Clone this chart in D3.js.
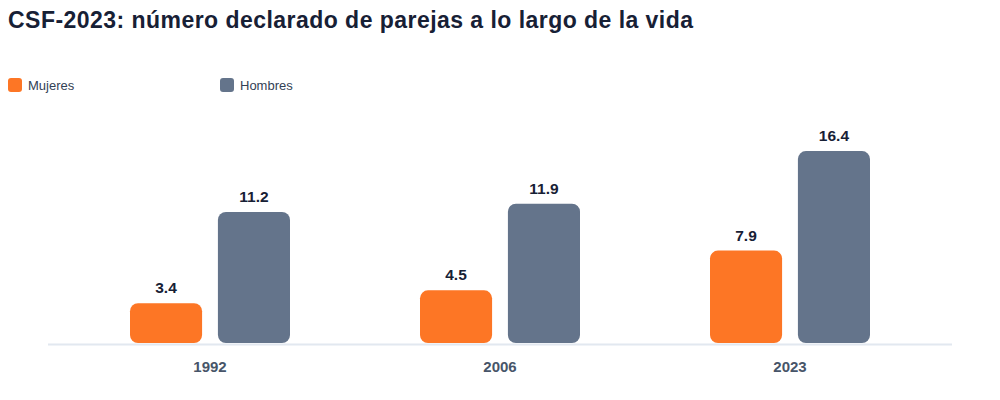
<!DOCTYPE html>
<html>
<head>
<meta charset="utf-8">
<script src="https://cdn.jsdelivr.net/npm/d3@7"></script>
<style>
  html, body { margin: 0; padding: 0; background: #ffffff; }
  svg { display: block; font-family: "Liberation Sans", Arial, sans-serif; }
</style>
</head>
<body>
<svg id="chart" width="1000" height="400"></svg>
<script>
const title = "CSF-2023: número declarado de parejas a lo largo de la vida";
const categories = ["1992", "2006", "2023"];
const seriesNames = ["Mujeres", "Hombres"];
const mujeres = [3.4, 4.5, 7.9];
const hombres = [11.2, 11.9, 16.4];
const colors = ["#fd7625", "#64748b"];

const svg = d3.select("#chart");
const baseY = 343;

svg.append("text")
  .attr("x", 8).attr("y", 28)
  .attr("font-size", 23).attr("font-weight", "bold")
  .attr("fill", "#172035")
  .attr("textLength", 685).attr("lengthAdjust", "spacing")
  .text(title);

// legend
const legendX = [8, 220];
seriesNames.forEach((s, i) => {
  const g = svg.append("g").attr("transform", `translate(${legendX[i]},78)`);
  g.append("rect").attr("width", 14).attr("height", 14).attr("rx", 3).attr("fill", colors[i]);
  g.append("text").attr("x", 20).attr("y", 12).attr("font-size", 13)
    .attr("fill", "#334155").text(s);
});

const x = d3.scaleBand().domain(categories).range([65, 935]).padding(0);
const sub = d3.scaleBand().domain(seriesNames).range([0, 160]).paddingInner(0.18);
const y = d3.scaleLinear().domain([0, 20]).range([baseY, baseY - 234]);

const data = categories.map((c, i) => ({cat: c, values: [mujeres[i], hombres[i]]}));

// axis line
svg.append("line")
  .attr("x1", 48).attr("x2", 952).attr("y1", baseY + 1.5).attr("y2", baseY + 1.5)
  .attr("stroke", "#e2e8f0").attr("stroke-width", 2);

const groups = svg.selectAll("g.grp").data(data).join("g")
  .attr("class", "grp")
  .attr("transform", d => `translate(${x(d.cat) + x.bandwidth() / 2 - 80},0)`);

groups.selectAll("rect").data(d => d.values.map((v, i) => ({v, s: seriesNames[i], i})))
  .join("rect")
  .attr("x", d => sub(d.s))
  .attr("width", sub.bandwidth())
  .attr("y", d => y(d.v))
  .attr("height", d => y(0) - y(d.v))
  .attr("rx", 8)
  .attr("fill", d => colors[d.i]);

groups.selectAll("text.val").data(d => d.values.map((v, i) => ({v, s: seriesNames[i], i})))
  .join("text")
  .attr("class", "val")
  .attr("x", d => sub(d.s) + sub.bandwidth() / 2)
  .attr("y", d => y(d.v) - 10)
  .attr("text-anchor", "middle")
  .attr("font-size", 15.5).attr("font-weight", "bold")
  .attr("fill", "#172035")
  .text(d => d.v.toFixed(1));

// x axis labels
const xAxis = d3.axisBottom(x).tickSize(0).tickPadding(0);
const ax = svg.append("g").attr("transform", `translate(0,${baseY})`).call(xAxis);
ax.select(".domain").remove();
ax.selectAll("text")
  .attr("y", 29).attr("dy", 0)
  .attr("font-size", 15).attr("font-weight", "bold")
  .attr("fill", "#475569")
  .attr("font-family", "\"Liberation Sans\", Arial, sans-serif");
</script>
</body>
</html>
